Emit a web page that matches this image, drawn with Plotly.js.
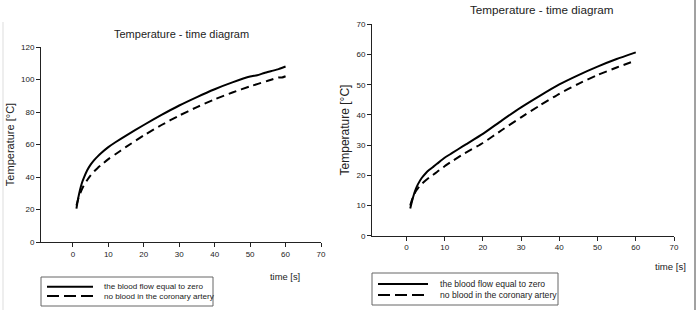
<!DOCTYPE html>
<html>
<head>
<meta charset="utf-8">
<script src="https://cdn.plot.ly/plotly-3.0.1.min.js"></script>
<style>html,body{margin:0;padding:0;background:#fff;}#chart{width:698px;height:310px;}</style>
</head>
<body>
<div id="chart"></div>
<script>
// ----- data -----
var leftTime = [1, 1.5, 2, 2.5, 3, 4, 5, 6, 7, 8, 10, 12, 15, 20, 25, 30, 35, 40, 45, 50, 52, 54, 56, 58, 60];
var leftZeroFlow = [20.5, 27, 32, 36, 39, 44, 47.6, 50.4, 52.7, 54.8, 58.4, 61.4, 65.5, 72, 78.2, 84, 89.2, 94, 98.2, 101.8, 102.6, 104, 105.2, 106.4, 108];
var leftNoBloodTime = [1, 1.5, 2, 2.5, 3, 4, 5, 6, 7, 8, 10, 12, 15, 20, 25, 30, 35, 40, 45, 50, 55, 57, 58, 59, 60];
var leftNoBlood = [22.5, 26.5, 29.5, 32.2, 34.5, 38, 41, 43.5, 45.6, 47.4, 51, 54, 58.5, 65.6, 72, 77.8, 83, 87.8, 92, 95.8, 99.2, 100.6, 101.2, 101.2, 102];

var rightTime = [1, 1.5, 2, 2.5, 3, 4, 5, 6, 7, 8, 10, 12, 15, 20, 25, 30, 35, 40, 45, 50, 55, 60];
var rightZeroFlow = [9, 11.6, 13.8, 15.6, 17, 19.1, 20.6, 21.8, 22.8, 23.8, 25.8, 27.4, 29.8, 33.7, 38.2, 42.5, 46.4, 50.1, 53.2, 56, 58.5, 60.7];
var rightNoBloodTime = [1, 1.5, 2, 2.5, 3, 4, 5, 6, 7, 8, 10, 12, 15, 20, 25, 30, 35, 40, 45, 50, 55, 60];
var rightNoBlood = [10, 12, 13.6, 14.8, 15.7, 17.1, 18.3, 19.3, 20.2, 21.1, 23, 24.7, 27.1, 30.7, 35, 39.2, 43.2, 47, 50.3, 53.2, 55.7, 58];

var xTicks = [0, 10, 20, 30, 40, 50, 60, 70];
var leftYTicks = [0, 20, 40, 60, 80, 100, 120];
var rightYTicks = [0, 10, 20, 30, 40, 50, 60, 70];
var seriesNames = ["the blood flow equal to zero", "no blood in the coronary artery"];
var chartTitle = "Temperature - time diagram";
var yTitle = "Temperature [°C]";
var xTitle = "time [s]";

// ----- figure -----
var W = 698, H = 310;
function px(x) { return x / W; }
function py(y) { return 1 - y / H; }

var FONT = "Liberation Sans, Arial, sans-serif";
var TXT = "#222";
var DASH = "8px,5px";

var traces = [
  {x: leftTime, y: leftZeroFlow, xaxis: "x", yaxis: "y", mode: "lines", name: seriesNames[0],
   line: {color: "#000", width: 2, shape: "spline", smoothing: 0.6}},
  {x: leftNoBloodTime, y: leftNoBlood, xaxis: "x", yaxis: "y", mode: "lines", name: seriesNames[1],
   line: {color: "#000", width: 2, dash: DASH, shape: "spline", smoothing: 0.6}},
  {x: rightTime, y: rightZeroFlow, xaxis: "x2", yaxis: "y2", mode: "lines", name: seriesNames[0],
   line: {color: "#000", width: 2, shape: "spline", smoothing: 0.5}},
  {x: rightNoBloodTime, y: rightNoBlood, xaxis: "x2", yaxis: "y2", mode: "lines", name: seriesNames[1],
   line: {color: "#000", width: 2, dash: DASH, shape: "spline", smoothing: 0.5}}
];

function xAxis(domain, anchor) {
  return {domain: domain, anchor: anchor, range: [-9, 70], tickvals: xTicks, showgrid: false, zeroline: false,
    showline: true, linecolor: "#222", linewidth: 1, ticks: "outside", ticklen: 4, tickcolor: "#222",
    tickfont: {family: FONT, size: 8, color: TXT}, fixedrange: true, automargin: false};
}
function yAxis(domain, anchor, range, ticks, tsize) {
  return {domain: domain, anchor: anchor, range: range, tickvals: ticks, showgrid: false, zeroline: false,
    showline: true, linecolor: "#222", linewidth: 1, ticks: "outside", ticklen: 4, tickcolor: "#222",
    tickfont: {family: FONT, size: 8, color: TXT}, automargin: false,
    title: {text: yTitle, font: {family: FONT, size: tsize, color: TXT}, standoff: 4}, fixedrange: true};
}

// manual legends (box + sample lines + labels)
function legend(box, sample, textX, rowsY, fontSize) {
  var shapes = [
    {type: "rect", xref: "paper", yref: "paper", x0: px(box[0]), x1: px(box[1]), y0: py(box[3]), y1: py(box[2]),
     line: {color: "#666", width: 1}, fillcolor: "rgba(0,0,0,0)"},
    {type: "line", xref: "paper", yref: "paper", x0: px(sample[0]), x1: px(sample[1]), y0: py(rowsY[0]), y1: py(rowsY[0]),
     line: {color: "#000", width: 2}},
    {type: "line", xref: "paper", yref: "paper", x0: px(sample[0]), x1: px(sample[1]), y0: py(rowsY[1]), y1: py(rowsY[1]),
     line: {color: "#000", width: 2, dash: "12px,5px"}}
  ];
  var ann = seriesNames.map(function (n, i) {
    return {text: n, xref: "paper", yref: "paper", x: px(textX), y: py(rowsY[i]), showarrow: false,
      xanchor: "left", yanchor: "middle", font: {family: FONT, size: fontSize, color: TXT}};
  });
  return {shapes: shapes, ann: ann};
}
var lg1 = legend([41, 213, 277, 306], [47, 93], 102, [286.7, 296], 8.1);
var lg2 = legend([372, 558, 273, 305], [378, 428], 438, [284, 295], 8.6);

var layout = {
  width: W, height: H,
  margin: {l: 0, r: 0, t: 0, b: 0},
  paper_bgcolor: "#fff", plot_bgcolor: "#fff",
  showlegend: false,
  xaxis: xAxis([px(41), px(321)], "y"),
  yaxis: yAxis([py(242), py(47)], "x", [0, 120], leftYTicks, 11),
  xaxis2: xAxis([px(372), px(674)], "y2"),
  yaxis2: yAxis([py(235.7), py(24.3)], "x2", [0, 70], rightYTicks, 12),
  annotations: [
    {text: chartTitle, xref: "paper", yref: "paper", x: px(182), y: py(34), showarrow: false,
     xanchor: "center", yanchor: "middle", font: {family: FONT, size: 11, color: TXT}},
    {text: chartTitle, xref: "paper", yref: "paper", x: px(542), y: py(10), showarrow: false,
     xanchor: "center", yanchor: "middle", font: {family: FONT, size: 11.7, color: TXT}},
    {text: xTitle, xref: "paper", yref: "paper", x: px(285), y: py(276), showarrow: false,
     xanchor: "center", yanchor: "middle", font: {family: FONT, size: 9.4, color: TXT}},
    {text: xTitle, xref: "paper", yref: "paper", x: px(670), y: py(266), showarrow: false,
     xanchor: "center", yanchor: "middle", font: {family: FONT, size: 9.6, color: TXT}}
  ].concat(lg1.ann, lg2.ann),
  shapes: [
    {type: "line", xref: "paper", yref: "paper", x0: px(3), x1: px(3), y0: py(22), y1: 0,
     line: {color: "#ddd", width: 1}},
    {type: "line", xref: "paper", yref: "paper", x0: px(695), x1: px(695), y0: 1, y1: 0,
     line: {color: "#444", width: 1}}
  ].concat(lg1.shapes, lg2.shapes)
};

Plotly.newPlot("chart", traces, layout, {staticPlot: true, displayModeBar: false});
</script>
</body>
</html>
